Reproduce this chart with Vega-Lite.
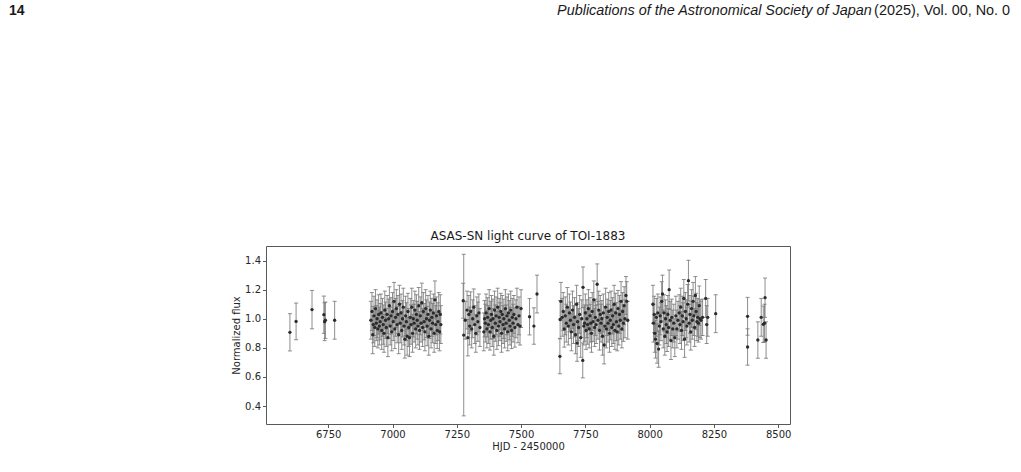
{
  "$schema": "https://vega.github.io/schema/vega-lite/v6.json",
  "width": 524,
  "height": 178,
  "autosize": {"type": "none"},
  "padding": {"left": 266, "top": 246, "right": 231, "bottom": 48},
  "background": "white",
  "config": {
    "view": {"stroke": "#595959", "strokeWidth": 1},
    "font": "DejaVu Sans",
    "axis": {
      "grid": false,
      "domain": false,
      "labelOverlap": false,
      "tickColor": "#595959",
      "tickSize": 3.5,
      "labelFont": "DejaVu Sans",
      "labelFontSize": 10,
      "labelColor": "#262626",
      "labelPadding": 2,
      "titleFont": "DejaVu Sans",
      "titleFontSize": 10,
      "titleFontWeight": "normal",
      "titleColor": "#262626"
    }
  },
  "datasets": {
    "lc": [
      {"t":6601,"f":0.907,"e":0.128},{"t":6625,"f":0.982,"e":0.126},{"t":6687,"f":1.063,"e":0.132},
      {"t":6733,"f":1.028,"e":0.128},{"t":6736,"f":0.980,"e":0.130},{"t":6739,"f":0.990,"e":0.125},{"t":6775,"f":0.990,"e":0.130},
      {"t":6916,"f":0.99,"e":0.13},{"t":6920,"f":1.05,"e":0.13},{"t":6923,"f":0.89,"e":0.13},{"t":6925,"f":0.96,"e":0.125},
      {"t":6928,"f":1.02,"e":0.135},{"t":6931,"f":0.94,"e":0.13},{"t":6934,"f":1.07,"e":0.13},{"t":6937,"f":0.97,"e":0.12},
      {"t":6940,"f":1.00,"e":0.13},{"t":6943,"f":0.93,"e":0.13},{"t":6946,"f":1.03,"e":0.135},{"t":6949,"f":0.95,"e":0.13},
      {"t":6952,"f":0.98,"e":0.125},{"t":6955,"f":1.04,"e":0.13},{"t":6958,"f":0.92,"e":0.13},{"t":6961,"f":1.01,"e":0.13},
      {"t":6964,"f":0.96,"e":0.135},{"t":6967,"f":0.90,"e":0.13},{"t":6970,"f":1.06,"e":0.13},{"t":6973,"f":0.99,"e":0.125},
      {"t":6976,"f":0.94,"e":0.13},{"t":6979,"f":1.03,"e":0.13},{"t":6982,"f":0.87,"e":0.13},{"t":6985,"f":1.00,"e":0.135},
      {"t":6988,"f":1.09,"e":0.13},{"t":6991,"f":0.95,"e":0.13},{"t":6994,"f":1.02,"e":0.125},{"t":6997,"f":0.91,"e":0.13},
      {"t":7000,"f":1.05,"e":0.13},{"t":7003,"f":0.98,"e":0.13},{"t":7006,"f":1.12,"e":0.13},{"t":7009,"f":0.93,"e":0.135},
      {"t":7012,"f":1.01,"e":0.13},{"t":7015,"f":1.07,"e":0.13},{"t":7018,"f":0.96,"e":0.125},{"t":7021,"f":1.03,"e":0.13},
      {"t":7024,"f":0.89,"e":0.13},{"t":7027,"f":1.10,"e":0.13},{"t":7030,"f":0.97,"e":0.135},{"t":7033,"f":1.04,"e":0.13},
      {"t":7036,"f":0.92,"e":0.13},{"t":7039,"f":1.00,"e":0.125},{"t":7042,"f":1.08,"e":0.13},{"t":7045,"f":0.95,"e":0.13},
      {"t":7048,"f":0.86,"e":0.13},{"t":7051,"f":1.02,"e":0.135},{"t":7054,"f":0.98,"e":0.13},{"t":7057,"f":0.88,"e":0.13},
      {"t":7060,"f":1.05,"e":0.125},{"t":7063,"f":0.94,"e":0.13},{"t":7066,"f":0.87,"e":0.13},{"t":7069,"f":1.01,"e":0.13},
      {"t":7072,"f":0.96,"e":0.135},{"t":7075,"f":1.08,"e":0.13},{"t":7078,"f":0.90,"e":0.13},{"t":7081,"f":1.00,"e":0.125},
      {"t":7084,"f":0.97,"e":0.13},{"t":7087,"f":1.06,"e":0.13},{"t":7090,"f":0.93,"e":0.13},{"t":7093,"f":1.03,"e":0.135},
      {"t":7096,"f":0.99,"e":0.13},{"t":7099,"f":0.95,"e":0.13},{"t":7102,"f":1.09,"e":0.125},{"t":7105,"f":0.92,"e":0.13},
      {"t":7108,"f":1.02,"e":0.13},{"t":7111,"f":0.97,"e":0.13},{"t":7114,"f":1.11,"e":0.135},{"t":7117,"f":0.94,"e":0.13},
      {"t":7120,"f":1.05,"e":0.13},{"t":7123,"f":0.98,"e":0.125},{"t":7126,"f":0.91,"e":0.13},{"t":7129,"f":1.07,"e":0.13},
      {"t":7132,"f":1.00,"e":0.13},{"t":7135,"f":0.95,"e":0.135},{"t":7138,"f":1.03,"e":0.13},{"t":7141,"f":0.88,"e":0.13},
      {"t":7144,"f":0.99,"e":0.125},{"t":7147,"f":1.06,"e":0.13},{"t":7150,"f":0.93,"e":0.13},{"t":7153,"f":1.01,"e":0.13},
      {"t":7156,"f":0.97,"e":0.135},{"t":7159,"f":1.04,"e":0.13},{"t":7162,"f":0.90,"e":0.13},{"t":7165,"f":1.13,"e":0.13},
      {"t":7168,"f":0.96,"e":0.13},{"t":7171,"f":1.02,"e":0.13},{"t":7174,"f":0.92,"e":0.125},{"t":7177,"f":0.98,"e":0.13},
      {"t":7180,"f":1.05,"e":0.13},{"t":7183,"f":0.91,"e":0.13},{"t":7186,"f":1.03,"e":0.135},{"t":7188,"f":0.96,"e":0.13},
      {"t":7275,"f":1.124,"e":0.12},{"t":7277,"f":0.888,"e":0.555},{"t":7283,"f":0.99,"e":0.13},{"t":7290,"f":1.06,"e":0.13},
      {"t":7293,"f":0.87,"e":0.125},{"t":7297,"f":1.03,"e":0.13},{"t":7300,"f":0.95,"e":0.13},{"t":7304,"f":1.05,"e":0.135},
      {"t":7308,"f":0.93,"e":0.13},{"t":7312,"f":1.00,"e":0.13},{"t":7316,"f":1.08,"e":0.125},{"t":7320,"f":0.96,"e":0.13},
      {"t":7324,"f":0.90,"e":0.13},{"t":7328,"f":1.02,"e":0.13},{"t":7332,"f":0.98,"e":0.135},{"t":7336,"f":1.04,"e":0.13},
      {"t":7340,"f":0.94,"e":0.13},{"t":7355,"f":0.91,"e":0.13},{"t":7358,"f":1.00,"e":0.125},{"t":7361,"f":0.97,"e":0.13},
      {"t":7364,"f":1.04,"e":0.13},{"t":7367,"f":0.93,"e":0.13},{"t":7370,"f":1.01,"e":0.135},{"t":7373,"f":0.96,"e":0.13},
      {"t":7376,"f":1.07,"e":0.13},{"t":7379,"f":0.91,"e":0.125},{"t":7382,"f":0.99,"e":0.13},{"t":7385,"f":1.03,"e":0.13},
      {"t":7388,"f":0.94,"e":0.13},{"t":7391,"f":1.00,"e":0.135},{"t":7394,"f":0.88,"e":0.13},{"t":7397,"f":1.06,"e":0.13},
      {"t":7400,"f":0.97,"e":0.125},{"t":7403,"f":1.02,"e":0.13},{"t":7406,"f":0.92,"e":0.13},{"t":7409,"f":1.08,"e":0.13},
      {"t":7412,"f":0.95,"e":0.135},{"t":7415,"f":1.01,"e":0.13},{"t":7418,"f":0.98,"e":0.13},{"t":7421,"f":1.05,"e":0.125},
      {"t":7424,"f":0.90,"e":0.13},{"t":7427,"f":1.03,"e":0.13},{"t":7430,"f":0.96,"e":0.13},{"t":7433,"f":1.00,"e":0.135},
      {"t":7436,"f":0.93,"e":0.13},{"t":7439,"f":1.07,"e":0.13},{"t":7442,"f":0.97,"e":0.125},{"t":7445,"f":1.02,"e":0.13},
      {"t":7448,"f":0.91,"e":0.13},{"t":7451,"f":1.04,"e":0.13},{"t":7454,"f":0.99,"e":0.135},{"t":7457,"f":0.95,"e":0.13},
      {"t":7460,"f":1.06,"e":0.13},{"t":7463,"f":0.92,"e":0.125},{"t":7466,"f":1.01,"e":0.13},{"t":7469,"f":0.97,"e":0.13},
      {"t":7472,"f":1.03,"e":0.13},{"t":7476,"f":0.94,"e":0.135},{"t":7480,"f":1.00,"e":0.13},{"t":7484,"f":1.08,"e":0.13},
      {"t":7488,"f":0.96,"e":0.125},{"t":7492,"f":1.02,"e":0.13},{"t":7496,"f":0.95,"e":0.13},{"t":7500,"f":1.07,"e":0.13},
      {"t":7533,"f":1.014,"e":0.125},{"t":7550,"f":0.95,"e":0.125},{"t":7562,"f":1.17,"e":0.13},
      {"t":7651,"f":0.742,"e":0.12},{"t":7652,"f":0.995,"e":0.13},{"t":7655,"f":1.12,"e":0.13},{"t":7660,"f":1.01,"e":0.13},
      {"t":7664,"f":1.05,"e":0.13},{"t":7668,"f":0.93,"e":0.125},{"t":7672,"f":1.02,"e":0.13},{"t":7676,"f":0.97,"e":0.13},
      {"t":7680,"f":1.08,"e":0.135},{"t":7684,"f":0.95,"e":0.13},{"t":7688,"f":1.04,"e":0.13},{"t":7692,"f":0.99,"e":0.125},
      {"t":7696,"f":0.91,"e":0.13},{"t":7700,"f":1.06,"e":0.13},{"t":7704,"f":0.96,"e":0.13},{"t":7708,"f":1.01,"e":0.135},
      {"t":7712,"f":0.89,"e":0.13},{"t":7716,"f":1.10,"e":0.13},{"t":7718,"f":0.833,"e":0.125},{"t":7720,"f":0.98,"e":0.13},
      {"t":7724,"f":0.94,"e":0.13},{"t":7728,"f":1.03,"e":0.13},{"t":7732,"f":0.87,"e":0.135},{"t":7736,"f":1.00,"e":0.13},
      {"t":7740,"f":0.714,"e":0.12},{"t":7741,"f":1.216,"e":0.14},{"t":7744,"f":0.95,"e":0.13},{"t":7747,"f":0.97,"e":0.125},
      {"t":7750,"f":1.04,"e":0.13},{"t":7753,"f":0.92,"e":0.13},{"t":7756,"f":1.00,"e":0.13},{"t":7759,"f":0.96,"e":0.135},
      {"t":7762,"f":1.07,"e":0.13},{"t":7765,"f":0.93,"e":0.13},{"t":7768,"f":1.02,"e":0.125},{"t":7771,"f":0.97,"e":0.13},
      {"t":7774,"f":0.90,"e":0.13},{"t":7777,"f":1.05,"e":0.13},{"t":7780,"f":0.98,"e":0.135},{"t":7783,"f":1.13,"e":0.13},
      {"t":7786,"f":0.94,"e":0.13},{"t":7789,"f":1.01,"e":0.125},{"t":7792,"f":0.96,"e":0.13},{"t":7796,"f":1.237,"e":0.14},
      {"t":7799,"f":0.99,"e":0.13},{"t":7802,"f":1.06,"e":0.13},{"t":7805,"f":0.92,"e":0.135},{"t":7808,"f":1.03,"e":0.13},
      {"t":7811,"f":0.97,"e":0.13},{"t":7814,"f":1.00,"e":0.125},{"t":7817,"f":0.88,"e":0.13},{"t":7820,"f":1.04,"e":0.13},
      {"t":7823,"f":0.82,"e":0.13},{"t":7826,"f":0.95,"e":0.135},{"t":7829,"f":1.08,"e":0.13},{"t":7832,"f":0.93,"e":0.13},
      {"t":7835,"f":1.01,"e":0.125},{"t":7838,"f":0.97,"e":0.13},{"t":7841,"f":1.05,"e":0.13},{"t":7844,"f":0.90,"e":0.13},
      {"t":7847,"f":0.99,"e":0.135},{"t":7850,"f":1.06,"e":0.13},{"t":7853,"f":0.94,"e":0.13},{"t":7856,"f":1.02,"e":0.125},
      {"t":7859,"f":0.96,"e":0.13},{"t":7862,"f":1.10,"e":0.13},{"t":7865,"f":0.92,"e":0.13},{"t":7868,"f":1.04,"e":0.135},
      {"t":7871,"f":0.98,"e":0.13},{"t":7874,"f":0.91,"e":0.13},{"t":7877,"f":1.07,"e":0.125},{"t":7880,"f":0.95,"e":0.13},
      {"t":7883,"f":1.03,"e":0.13},{"t":7886,"f":0.99,"e":0.13},{"t":7889,"f":1.12,"e":0.135},{"t":7892,"f":0.93,"e":0.13},
      {"t":7895,"f":1.05,"e":0.13},{"t":7898,"f":0.97,"e":0.125},{"t":7901,"f":1.09,"e":0.13},{"t":7904,"f":1.00,"e":0.13},
      {"t":7908,"f":1.16,"e":0.13},{"t":7911,"f":1.12,"e":0.135},{"t":7915,"f":0.99,"e":0.13},
      {"t":8013,"f":1.10,"e":0.13},{"t":8015,"f":0.97,"e":0.13},{"t":8018,"f":1.03,"e":0.125},{"t":8020,"f":0.90,"e":0.13},
      {"t":8023,"f":0.86,"e":0.13},{"t":8026,"f":1.01,"e":0.13},{"t":8029,"f":0.83,"e":0.135},{"t":8032,"f":1.04,"e":0.13},
      {"t":8035,"f":0.792,"e":0.125},{"t":8038,"f":0.95,"e":0.13},{"t":8041,"f":1.02,"e":0.13},{"t":8044,"f":0.98,"e":0.13},
      {"t":8047,"f":1.12,"e":0.135},{"t":8050,"f":1.17,"e":0.13},{"t":8053,"f":0.93,"e":0.13},{"t":8056,"f":1.04,"e":0.125},
      {"t":8059,"f":0.88,"e":0.13},{"t":8062,"f":1.00,"e":0.13},{"t":8065,"f":0.96,"e":0.13},{"t":8068,"f":0.91,"e":0.135},
      {"t":8071,"f":1.03,"e":0.13},{"t":8074,"f":0.94,"e":0.13},{"t":8076,"f":1.20,"e":0.135},{"t":8080,"f":0.99,"e":0.13},
      {"t":8083,"f":0.85,"e":0.13},{"t":8086,"f":1.01,"e":0.125},{"t":8090,"f":0.93,"e":0.13},{"t":8094,"f":0.97,"e":0.13},
      {"t":8098,"f":0.87,"e":0.13},{"t":8102,"f":1.02,"e":0.135},{"t":8106,"f":0.93,"e":0.13},{"t":8110,"f":0.99,"e":0.13},
      {"t":8115,"f":1.04,"e":0.125},{"t":8118,"f":0.96,"e":0.13},{"t":8121,"f":1.08,"e":0.13},{"t":8124,"f":0.92,"e":0.13},
      {"t":8127,"f":1.02,"e":0.135},{"t":8130,"f":0.98,"e":0.13},{"t":8133,"f":1.14,"e":0.13},{"t":8136,"f":0.86,"e":0.125},
      {"t":8139,"f":1.05,"e":0.13},{"t":8142,"f":1.00,"e":0.13},{"t":8145,"f":0.95,"e":0.13},{"t":8148,"f":1.10,"e":0.135},
      {"t":8151,"f":1.262,"e":0.14},{"t":8154,"f":0.97,"e":0.13},{"t":8157,"f":1.03,"e":0.13},{"t":8160,"f":0.91,"e":0.125},
      {"t":8163,"f":1.07,"e":0.13},{"t":8166,"f":0.99,"e":0.13},{"t":8169,"f":1.12,"e":0.13},{"t":8172,"f":1.02,"e":0.135},
      {"t":8175,"f":0.94,"e":0.13},{"t":8178,"f":1.16,"e":0.13},{"t":8181,"f":1.05,"e":0.125},{"t":8184,"f":0.98,"e":0.13},
      {"t":8187,"f":1.01,"e":0.13},{"t":8190,"f":0.97,"e":0.13},{"t":8193,"f":1.09,"e":0.135},{"t":8196,"f":1.00,"e":0.13},
      {"t":8200,"f":0.99,"e":0.13},{"t":8206,"f":1.01,"e":0.125},{"t":8218,"f":1.14,"e":0.13},{"t":8222,"f":0.96,"e":0.13},
      {"t":8226,"f":1.01,"e":0.13},{"t":8257,"f":1.035,"e":0.13},
      {"t":8381,"f":1.017,"e":0.13},{"t":8381,"f":0.806,"e":0.125},{"t":8421,"f":0.854,"e":0.125},{"t":8434,"f":1.01,"e":0.13},
      {"t":8442,"f":0.962,"e":0.125},{"t":8447,"f":0.97,"e":0.13},{"t":8449,"f":1.145,"e":0.135},{"t":8453,"f":0.854,"e":0.125}
    ],
    "plottitle": [{"label": "ASAS-SN light curve of TOI-1883"}],
    "head": [{"label": "14"}],
    "journal": [{"label": "Publications of the Astronomical Society of Japan"}],
    "issue": [{"label": "(2025), Vol. 00, No. 0"}]
  },
  "layer": [
    {
      "data": {"name": "lc"},
      "mark": {"type": "errorbar", "color": "#7a7a7a", "opacity": 0.85, "ticks": {"size": 4, "color": "#7a7a7a"}, "rule": {"strokeWidth": 1}},
      "encoding": {
        "x": {
          "field": "t", "type": "quantitative",
          "scale": {"domain": [6508, 8546], "nice": false, "zero": false},
          "axis": {"values": [6750, 7000, 7250, 7500, 7750, 8000, 8250, 8500], "tickCount": 20, "format": "d", "title": "HJD - 2450000", "titlePadding": 2, "labelOverlap": false}
        },
        "y": {
          "field": "f", "type": "quantitative",
          "scale": {"domain": [0.277, 1.5], "nice": false, "zero": false},
          "axis": {"values": [0.4, 0.6, 0.8, 1.0, 1.2, 1.4], "tickCount": 20, "format": ".1f", "title": "Normalized flux", "titlePadding": 3, "labelOverlap": false}
        },
        "yError": {"field": "e"}
      }
    },
    {
      "data": {"name": "lc"},
      "mark": {"type": "point", "filled": true, "shape": "circle", "size": 11, "color": "#2b2b2b", "opacity": 1},
      "encoding": {
        "x": {"field": "t", "type": "quantitative"},
        "y": {"field": "f", "type": "quantitative"}
      }
    },
    {
      "data": {"name": "plottitle"},
      "mark": {"type": "text", "font": "DejaVu Sans", "fontSize": 12, "align": "center", "baseline": "middle", "color": "#1a1a1a"},
      "encoding": {
        "x": {"datum": 7527, "type": "quantitative"},
        "y": {"datum": 1.569, "type": "quantitative"},
        "text": {"field": "label"}
      }
    },
    {
      "data": {"name": "head"},
      "mark": {"type": "text", "font": "Liberation Sans", "fontSize": 14, "fontWeight": "bold", "align": "left", "baseline": "middle", "color": "#1a1a1a"},
      "encoding": {
        "x": {"datum": 5508, "type": "quantitative"},
        "y": {"datum": 3.115, "type": "quantitative"},
        "text": {"field": "label"}
      }
    },
    {
      "data": {"name": "journal"},
      "mark": {"type": "text", "font": "Liberation Sans", "fontSize": 14.4, "fontStyle": "italic", "align": "right", "baseline": "middle", "color": "#1a1a1a"},
      "encoding": {
        "x": {"datum": 8864, "type": "quantitative"},
        "y": {"datum": 3.115, "type": "quantitative"},
        "text": {"field": "label"}
      }
    },
    {
      "data": {"name": "issue"},
      "mark": {"type": "text", "font": "Liberation Sans", "fontSize": 14.4, "align": "right", "baseline": "middle", "color": "#1a1a1a"},
      "encoding": {
        "x": {"datum": 9402, "type": "quantitative"},
        "y": {"datum": 3.115, "type": "quantitative"},
        "text": {"field": "label"}
      }
    }
  ]
}
